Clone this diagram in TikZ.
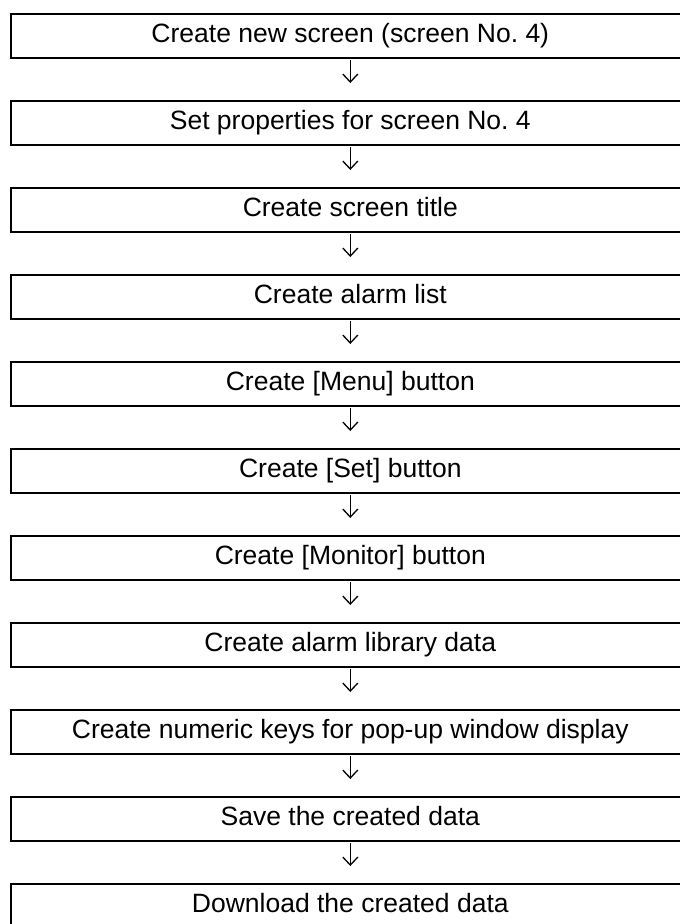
\documentclass[tikz,border=0pt]{standalone}
\usepackage{fontspec}
\setmainfont{Liberation Sans}
\usepackage{tikz}
\usetikzlibrary{arrows.meta}
\frenchspacing

\begin{document}
\begin{tikzpicture}[x=1pt, y=-1pt,
          stepbox/.style={rectangle, draw, line width=2pt,
                          minimum width=678pt, minimum height=43.5pt,
                          inner sep=0pt, text height=19.5pt, text depth=5.5pt,
                          font=\fontsize{26.5}{30}\selectfont, align=center},
          arr/.style={-{Straight Barb[length=8pt, width=15pt]}, line width=1.3pt,
                      shorten <=1.5pt, shorten >=17pt}
        ]
        \useasboundingbox (0,0) rectangle (680,924);
        \node[stepbox] (s1)  at (350.3, 35.75)  {Create new screen (screen No. 4)};
        \node[stepbox] (s2)  at (350.3, 122.75) {Set properties for screen No. 4};
        \node[stepbox] (s3)  at (350.3, 209.75) {Create screen title};
        \node[stepbox] (s4)  at (350.3, 296.75) {Create alarm list};
        \node[stepbox] (s5)  at (350.3, 383.75) {Create [Menu] button};
        \node[stepbox] (s6)  at (350.3, 470.75) {Create [Set] button};
        \node[stepbox] (s7)  at (350.3, 557.75) {Create [Monitor] button};
        \node[stepbox] (s8)  at (350.3, 644.75) {Create alarm library data};
        \node[stepbox] (s9)  at (350.3, 731.75) {Create numeric keys for pop-up window display};
        \node[stepbox] (s10) at (350.3, 818.75) {Save the created data};
        \node[stepbox] (s11) at (350.3, 905.75) {Download the created data};

        % Step arrows
        \draw[arr] (s1)  -- (s2);
        \draw[arr] (s2)  -- (s3);
        \draw[arr] (s3)  -- (s4);
        \draw[arr] (s4)  -- (s5);
        \draw[arr] (s5)  -- (s6);
        \draw[arr] (s6)  -- (s7);
        \draw[arr] (s7)  -- (s8);
        \draw[arr] (s8)  -- (s9);
        \draw[arr] (s9)  -- (s10);
        \draw[arr] (s10) -- (s11);
      \end{tikzpicture}
\end{document}
